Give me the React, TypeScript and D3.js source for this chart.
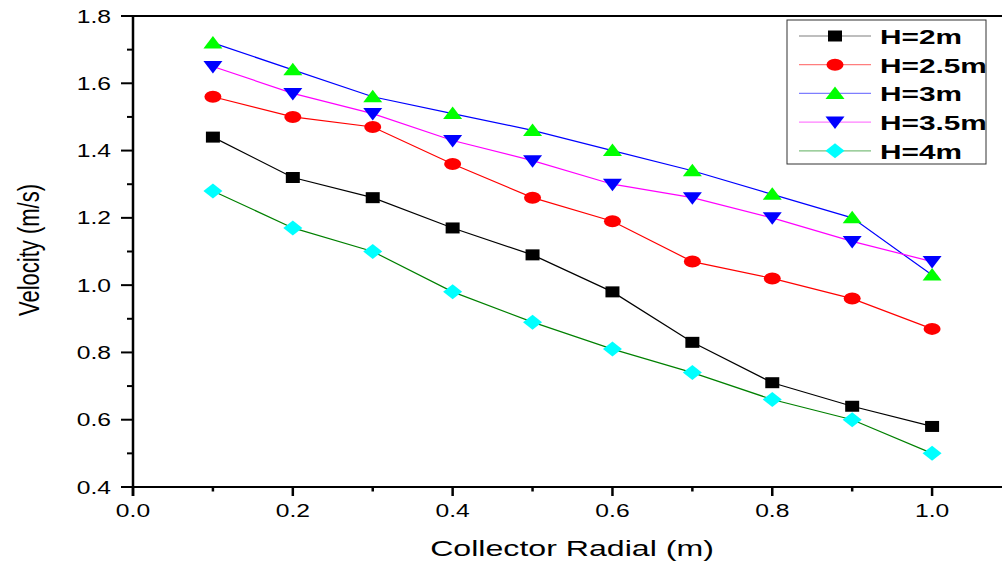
import React from "react";
import * as d3 from "d3";

const radial = [0.1, 0.2, 0.3, 0.4, 0.5, 0.6, 0.7, 0.8, 0.9, 1.0];

const h2 = [1.44, 1.32, 1.26, 1.17, 1.09, 0.98, 0.83, 0.71, 0.64, 0.58];
const h25 = [1.56, 1.5, 1.47, 1.36, 1.26, 1.19, 1.07, 1.02, 0.96, 0.87];
const h3 = [1.72, 1.64, 1.56, 1.51, 1.46, 1.4, 1.34, 1.27, 1.2, 1.03];
const h35 = [1.65, 1.57, 1.51, 1.43, 1.37, 1.3, 1.26, 1.2, 1.13, 1.07];
const h4 = [1.28, 1.17, 1.1, 0.98, 0.89, 0.81, 0.74, 0.66, 0.6, 0.5];

const xTicks = [0, 0.2, 0.4, 0.6, 0.8, 1.0];
const xMinor = [0.1, 0.3, 0.5, 0.7, 0.9, 1.1];
const yTicks = [0.4, 0.6, 0.8, 1.0, 1.2, 1.4, 1.6, 1.8];
const yMinor = [0.5, 0.7, 0.9, 1.1, 1.3, 1.5, 1.7];

const series = [
  { name: "H=2m", values: h2, line: "#000000", fill: "#000000", shape: "square" },
  { name: "H=2.5m", values: h25, line: "#ff0000", fill: "#ff0000", shape: "circle" },
  { name: "H=3m", values: h3, line: "#0000ff", fill: "#00ff00", shape: "up" },
  { name: "H=3.5m", values: h35, line: "#ff00ff", fill: "#0000ff", shape: "down" },
  { name: "H=4m", values: h4, line: "#008000", fill: "#00ffff", shape: "diamond" },
];

const W = 1002;
const H = 562;
const SX = 1.37; // horizontal stretch of the original export
const FONT = "Arial, 'Liberation Sans', sans-serif";

function markerPath(shape: string) {
  switch (shape) {
    case "square":
      return "M-7,-5.5H7V5.5H-7Z";
    case "up":
      return "M0,-7L9.5,5.5H-9.5Z";
    case "down":
      return "M0,7L9.5,-5.5H-9.5Z";
    case "diamond":
      return "M0,-7.5L9.5,0L0,7.5L-9.5,0Z";
    default:
      return "";
  }
}

function Marker({ shape, x, y, fill }: { shape: string; x: number; y: number; fill: string }) {
  if (shape === "circle") return <ellipse cx={x} cy={y} rx={8.5} ry={6} fill={fill} />;
  return <path d={markerPath(shape)} transform={`translate(${x},${y})`} fill={fill} />;
}

function SText({ x, y, anchor, size, weight, sx, children }: any) {
  return (
    <text
      transform={`translate(${x},${y}) scale(${sx || SX},1)`}
      textAnchor={anchor}
      fontSize={size}
      fontWeight={weight || "normal"}
      fontFamily={FONT}
      fill="#000"
    >
      {children}
    </text>
  );
}

export default function App() {
  const x = d3.scaleLinear().domain([0, 1.1]).range([133, 1012]);
  const y = d3.scaleLinear().domain([0.4, 1.8]).range([487, 16]);
  const left = x(0);
  const bottom = y(0.4);
  const top = y(1.8);

  const line = d3
    .line<number>()
    .x((_, i) => x(radial[i]))
    .y((d) => y(d));

  return (
    <svg
      width={W}
      height={H}
      style={{ position: "absolute", left: 0, top: 0, background: "#fff" }}
    >
      <rect width={W} height={H} fill="#fff" />

      {/* series */}
      {series.map((s) => (
        <g key={s.name}>
          <path d={line(s.values) || ""} fill="none" stroke={s.line} strokeWidth={1.2} />
          {s.values.map((v, i) => (
            <Marker key={i} shape={s.shape} x={x(radial[i])} y={y(v)} fill={s.fill} />
          ))}
        </g>
      ))}

      {/* axes */}
      <line x1={left} x2={W} y1={top} y2={top} stroke="#000" strokeWidth={2} />
      <line x1={left} x2={left} y1={top - 1} y2={bottom + 9} stroke="#000" strokeWidth={2.5} />
      <line x1={left - 12} x2={W} y1={bottom} y2={bottom} stroke="#000" strokeWidth={2} />

      {yTicks.map((t) => (
        <g key={t}>
          <line x1={left - 12} x2={left} y1={y(t)} y2={y(t)} stroke="#000" strokeWidth={2} />
          <SText x={left - 22} y={y(t) + 6.5} anchor="end" size={18}>
            {t.toFixed(1)}
          </SText>
        </g>
      ))}
      {yMinor.map((t) => (
        <line key={t} x1={left - 6} x2={left} y1={y(t)} y2={y(t)} stroke="#000" strokeWidth={2} />
      ))}

      {xTicks.map((t) => (
        <g key={t}>
          <line x1={x(t)} x2={x(t)} y1={bottom} y2={bottom + 9} stroke="#000" strokeWidth={2.5} />
          <SText x={x(t)} y={bottom + 30} anchor="middle" size={18}>
            {t.toFixed(1)}
          </SText>
        </g>
      ))}
      {xMinor.map((t) => (
        <line key={t} x1={x(t)} x2={x(t)} y1={bottom} y2={bottom + 4.5} stroke="#000" strokeWidth={2.5} />
      ))}

      {/* axis titles */}
      <SText x={572} y={556} anchor="middle" size={22} sx={1.46}>
        Collector Radial (m)
      </SText>
      <text
        transform={`translate(39,250) rotate(-90) scale(1,${SX})`}
        textAnchor="middle"
        fontSize={22}
        fontFamily={FONT}
        fill="#000"
      >
        Velocity (m/s)
      </text>

      {/* legend */}
      <rect x={787} y={20} width={199} height={144} fill="#fff" stroke="#333" strokeWidth={1} />
      {series.map((s, i) => {
        const ly = 36 + i * 28.7;
        return (
          <g key={s.name}>
            <line x1={799} x2={871} y1={ly} y2={ly} stroke={s.line} strokeWidth={1.2} opacity={0.5} />
            <Marker shape={s.shape} x={835} y={ly} fill={s.fill} />
            <SText x={880} y={ly + 8} anchor="start" size={21} weight="bold" sx={1.42}>
              {s.name}
            </SText>
          </g>
        );
      })}
    </svg>
  );
}
